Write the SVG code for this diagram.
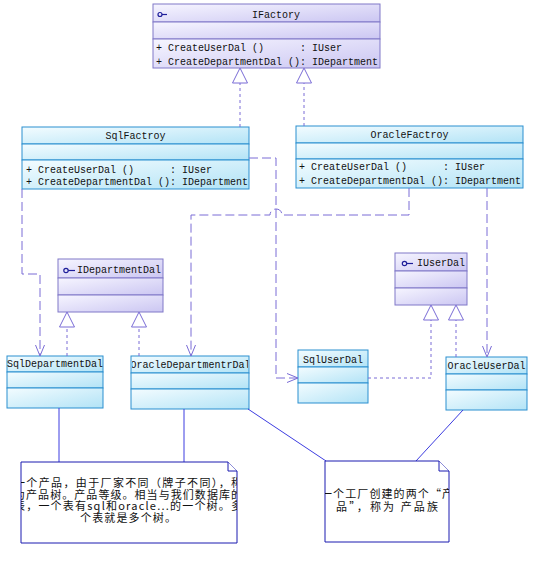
<svg xmlns="http://www.w3.org/2000/svg" width="537" height="576" viewBox="0 0 537 576">
<style>
.iface rect{fill:url(#gi);stroke:#8078c8;stroke-width:1}
.cls rect{fill:url(#gc);stroke:#2b8fd0;stroke-width:1}
.t{font-family:"Liberation Mono","DejaVu Sans Mono",monospace;font-size:10px;fill:#111;white-space:pre}
.ic{fill:none;stroke:#1e1e9a;stroke-width:1.2}
.dep{fill:none;stroke:#7a6cd6;stroke-width:1;stroke-dasharray:9 4}
.real{fill:none;stroke:#7a6cd6;stroke-width:1;stroke-dasharray:3 3}
.tri{fill:#fff;stroke:#7a6cd6;stroke-width:1}
.nl{fill:none;stroke:#3c3ce0;stroke-width:1}
.note{fill:#fff;stroke:#1a1ab0;stroke-width:1}
.cn{font-family:"Noto Sans CJK SC","Noto Sans CJK JP",sans-serif;font-size:11px;fill:#111;text-anchor:middle}
</style>
<defs>
<linearGradient id="gi" x1="0" y1="0" x2="1" y2="1">
<stop offset="0" stop-color="#f6f5ff"/><stop offset="1" stop-color="#cbc6f2"/>
</linearGradient>
<linearGradient id="gc" x1="0" y1="0" x2="1" y2="1">
<stop offset="0" stop-color="#f3fcff"/><stop offset="1" stop-color="#b2e3f6"/>
</linearGradient>
<marker id="open" markerUnits="userSpaceOnUse" markerWidth="14" markerHeight="12" refX="11" refY="4.5" orient="auto" overflow="visible">
<path d="M0,0 L11,4.5 L0,9" fill="none" stroke="#7a6cd6" stroke-width="1"/>
</marker>
<clipPath id="c1"><rect x="21" y="462" width="216" height="81"/></clipPath>
<clipPath id="c2"><rect x="325" y="461" width="124" height="81"/></clipPath>
<clipPath id="c3"><rect x="132" y="357" width="116" height="15"/></clipPath>
</defs>
<rect width="537" height="576" fill="#fff"/>

<g id="IFactory" class="iface">
<rect x="153" y="4" width="227" height="18"/>
<rect x="153" y="22" width="227" height="17"/>
<rect x="153" y="39" width="227" height="29"/>
<circle class="ic" cx="160" cy="14.5" r="2"/><path class="ic" d="M162,14.5 H167"/>
<text class="t" x="276" y="18" text-anchor="middle">IFactory</text>
<text class="t" x="156" y="50.5">+ CreateUserDal ()      : IUser</text>
<text class="t" x="156" y="64.5">+ CreateDepartmentDal (): IDepartment</text>
</g>

<g id="SqlFactroy" class="cls">
<rect x="22" y="127" width="227" height="17"/>
<rect x="22" y="144" width="227" height="16"/>
<rect x="22" y="160" width="227" height="29"/>
<text class="t" x="135.5" y="139" text-anchor="middle">SqlFactroy</text>
<text class="t" x="26" y="172.5">+ CreateUserDal ()      : IUser</text>
<text class="t" x="26" y="184.5">+ CreateDepartmentDal (): IDepartment</text>
</g>

<g id="OracleFactroy" class="cls">
<rect x="296" y="126" width="227" height="17"/>
<rect x="296" y="143" width="227" height="16"/>
<rect x="296" y="159" width="227" height="29"/>
<text class="t" x="409.5" y="138" text-anchor="middle">OracleFactroy</text>
<text class="t" x="299" y="170">+ CreateUserDal ()      : IUser</text>
<text class="t" x="299" y="183.5">+ CreateDepartmentDal (): IDepartment</text>
</g>

<g id="IDepartmentDal" class="iface">
<rect x="58" y="259" width="105" height="19"/>
<rect x="58" y="278" width="105" height="17"/>
<rect x="58" y="295" width="105" height="17"/>
<circle class="ic" cx="66" cy="270.5" r="2.2"/><path class="ic" d="M68.2,270.5 H75"/>
<text class="t" x="77" y="272.5">IDepartmentDal</text>
</g>

<g id="IUserDal" class="iface">
<rect x="395" y="253" width="72" height="18"/>
<rect x="395" y="271" width="72" height="17"/>
<rect x="395" y="288" width="72" height="17"/>
<circle class="ic" cx="404.5" cy="263.5" r="2.2"/><path class="ic" d="M406.7,263.5 H413"/>
<text class="t" x="417" y="266">IUserDal</text>
</g>

<g id="SqlDepartmentDal" class="cls">
<rect x="7" y="356" width="96" height="16"/>
<rect x="7" y="372" width="96" height="16"/>
<rect x="7" y="388" width="96" height="20"/>
<text class="t" x="55" y="367" text-anchor="middle">SqlDepartmentDal</text>
</g>

<g id="OracleDepartmentrDal" class="cls">
<rect x="131" y="356" width="118" height="17"/>
<rect x="131" y="373" width="118" height="16"/>
<rect x="131" y="389" width="118" height="20"/>
<text class="t" x="190.5" y="367.5" text-anchor="middle" clip-path="url(#c3)">OracleDepartmentrDal</text>
</g>

<g id="SqlUserDal" class="cls">
<rect x="298" y="350" width="70" height="17"/>
<rect x="298" y="367" width="70" height="16"/>
<rect x="298" y="383" width="70" height="20"/>
<text class="t" x="333" y="362.5" text-anchor="middle">SqlUserDal</text>
</g>

<g id="OracleUserDal" class="cls">
<rect x="446" y="357" width="81" height="17"/>
<rect x="446" y="374" width="81" height="16"/>
<rect x="446" y="390" width="81" height="20"/>
<text class="t" x="486.5" y="368.5" text-anchor="middle">OracleUserDal</text>
</g>

<g id="connectors">
<path class="real" d="M240,127 V83"/>
<polygon class="tri" points="240,68 232.5,83 247.5,83"/>
<path class="real" d="M304,126 V83"/>
<polygon class="tri" points="304,68 296.5,83 311.5,83"/>
<path class="real" d="M67,356 V327"/>
<polygon class="tri" points="67,312 59.5,327 74.5,327"/>
<path class="real" d="M139,356 V327"/>
<polygon class="tri" points="139,312 131.5,327 146.5,327"/>
<path class="real" d="M368,378 H431 V320"/>
<polygon class="tri" points="431,305 423.5,320 438.5,320"/>
<path class="real" d="M456,357 V320"/>
<polygon class="tri" points="456,305 448.5,320 463.5,320"/>
<path class="dep" d="M22,189 V274 H40 V356" marker-end="url(#open)"/>
<path class="dep" d="M249,158 H276 V378 H298" marker-end="url(#open)"/>
<path class="dep" d="M409,188 V215 H282 A6,6 0 0 0 270,215 H191 V356" marker-end="url(#open)"/>
<path class="dep" d="M487,188 V357" marker-end="url(#open)"/>
<path class="nl" d="M59,408 V462 M184,409 V462 M248,409 L326,461 M463,410 L416,461"/>
</g>

<g id="note1">
<path class="note" d="M21,462 H228 L237,471 V543 H21 Z"/>
<path class="note" d="M228,462 V471 H237"/>
<g clip-path="url(#c1)">
<text class="cn" x="128" y="487" textLength="228" lengthAdjust="spacing">一个产品，由于厂家不同（牌子不同），称</text>
<text class="cn" x="128" y="498.5" textLength="228" lengthAdjust="spacing">为产品树。产品等级。相当与我们数据库的</text>
<text class="cn" x="128" y="510" textLength="228" lengthAdjust="spacing">表，一个表有sql和oracle...的一个树。多</text>
<text class="cn" x="128" y="521.5" textLength="96" lengthAdjust="spacing">个表就是多个树。</text>
</g>
</g>

<g id="note2">
<path class="note" d="M325,461 H439 L449,471 V542 H325 Z"/>
<path class="note" d="M439,461 V471 H449"/>
<g clip-path="url(#c2)">
<text class="cn" x="387" y="497.5" textLength="132" lengthAdjust="spacing">一个工厂创建的两个“产</text>
<text class="cn" x="387" y="510.5" textLength="102" lengthAdjust="spacing">品”，称为 产品族</text>
</g>
</g>
</svg>
